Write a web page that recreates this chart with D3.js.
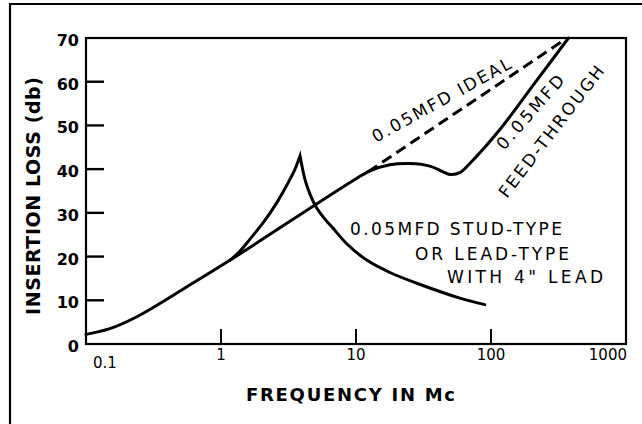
<!DOCTYPE html>
<html>
<head>
<meta charset="utf-8">
<script src="https://cdn.jsdelivr.net/npm/d3@7/dist/d3.min.js"></script>
<style>
  html, body { margin: 0; padding: 0; background: #fff; }
  svg { display: block; }
  text { font-family: "DejaVu Sans", sans-serif; fill: #000; }
</style>
</head>
<body>
<svg id="chart" width="642" height="424"></svg>
<script>
// Insertion loss of 0.05 MFD capacitors versus frequency

// Feed-through capacitor (shares the low-frequency rise with the lead-type part)
const feedFreq = [0.1, 0.15, 0.24, 0.56, 1.17, 9.1, 12.7, 17.8, 25.1, 35.2, 44.2, 49.6, 58.8, 69.7, 116, 210, 375];
const feedLoss = [2.2, 3.5, 6.3, 13.1, 19.2, 37.0, 39.6, 41.0, 41.3, 40.7, 39.4, 38.8, 39.2, 41.3, 49.0, 59.6, 70];

// Stud-type / lead-type with 4" lead: resonance rise, then falling branch
const studRiseFreq = [1.17, 1.38, 1.64, 2.06, 2.6, 3.07, 3.5, 3.85];
const studRiseLoss = [19.2, 21.2, 24.0, 27.8, 32.4, 36.3, 39.7, 43.0];
const studFallFreq = [3.85, 4.2, 4.6, 5.05, 5.8, 6.8, 8.5, 12, 18, 28.2, 58.8, 90];
const studFallLoss = [43.0, 37.5, 34.0, 31.4, 28.8, 26.4, 23.0, 19.2, 16.3, 13.9, 10.5, 9.0];

// Ideal 0.05 MFD capacitor (dashed)
const idealFreq = [12.3, 343];
const idealLoss = [39.4, 69.4];

// Axis ticks
const xTicks = [0.1, 1, 10, 100, 1000];
const xTickLabels = ["0.1", "1", "10", "100", "1000"];
const yTicks = [0, 10, 20, 30, 40, 50, 60, 70];

const svg = d3.select("#chart");

const x = d3.scaleLog().domain([0.1, 1000]).range([86, 626]);
const y = d3.scaleLinear().domain([0, 70]).range([344, 38]);

// outer frame (left and top edges of the sheet)
svg.append("path")
  .attr("d", "M10,424 L10,4 L642,4")
  .attr("fill", "none").attr("stroke", "#000").attr("stroke-width", 2.2);

// plot box
svg.append("rect")
  .attr("x", x(0.1)).attr("y", y(70))
  .attr("width", x(1000) - x(0.1)).attr("height", y(0) - y(70))
  .attr("fill", "none").attr("stroke", "#000").attr("stroke-width", 2.2);

// y ticks (inward) and labels
const yMajor = yTicks.filter(d => d > 0 && d < 70);
svg.append("g").selectAll("line").data(yMajor).join("line")
  .attr("x1", x(0.1)).attr("x2", x(0.1) + 18)
  .attr("y1", d => y(d)).attr("y2", d => y(d))
  .attr("stroke", "#000").attr("stroke-width", 2.4);
svg.append("g").selectAll("text").data(yTicks).join("text")
  .attr("x", 79).attr("y", d => y(d) + 8)
  .attr("text-anchor", "end")
  .attr("font-size", 16).attr("font-weight", "bold")
  .text(d => d);

// x ticks (inward) and labels
const xMajor = xTicks.filter(d => d > 0.1 && d < 1000);
svg.append("g").selectAll("line").data(xMajor).join("line")
  .attr("x1", d => x(d)).attr("x2", d => x(d))
  .attr("y1", y(0)).attr("y2", y(0) - 15)
  .attr("stroke", "#000").attr("stroke-width", 2);
svg.append("g").selectAll("text").data(xTicks).join("text")
  .attr("x", (d, i) => i === 0 ? x(d) + 7 : (i === xTicks.length - 1 ? x(d) + 1 : x(d)))
  .attr("y", (d, i) => i === 0 ? 368 : 360)
  .attr("text-anchor", (d, i) => i === 0 ? "start" : (i === xTicks.length - 1 ? "end" : "middle"))
  .attr("font-size", 15)
  .text((d, i) => xTickLabels[i]);

// axis titles
svg.append("text")
  .attr("x", 246).attr("y", 401)
  .attr("font-size", 18).attr("font-weight", "bold")
  .attr("textLength", 209).attr("lengthAdjust", "spacing")
  .text("FREQUENCY IN Mc");

svg.append("text")
  .attr("transform", "translate(40,196) rotate(-90)")
  .attr("text-anchor", "middle")
  .attr("font-size", 19).attr("font-weight", "bold")
  .attr("textLength", 238).attr("lengthAdjust", "spacing")
  .text("INSERTION LOSS  (db)");

// curves
const line = d3.line()
  .x(d => x(d[0])).y(d => y(d[1]))
  .curve(d3.curveCatmullRom.alpha(0.5));

const zip = (a, b) => a.map((v, i) => [v, b[i]]);

svg.append("path")
  .attr("d", line(zip(feedFreq, feedLoss)))
  .attr("fill", "none").attr("stroke", "#000").attr("stroke-width", 3)
  .attr("stroke-linecap", "round");

const studPath = line(zip(studRiseFreq, studRiseLoss)) +
  line(zip(studFallFreq, studFallLoss)).replace(/^M/, "L");
svg.append("path")
  .attr("d", studPath)
  .attr("fill", "none").attr("stroke", "#000").attr("stroke-width", 3)
  .attr("stroke-linejoin", "miter").attr("stroke-miterlimit", 20)
  .attr("stroke-linecap", "round");

svg.append("path")
  .attr("d", d3.line().x(d => x(d[0])).y(d => y(d[1]))(zip(idealFreq, idealLoss)))
  .attr("fill", "none").attr("stroke", "#000").attr("stroke-width", 3)
  .attr("stroke-dasharray", "11,6");

// curve annotations
function note(txt, px, py, angle, len) {
  svg.append("text")
    .attr("transform", `translate(${px},${py}) rotate(${angle})`)
    .attr("font-size", 17)
    .attr("textLength", len).attr("lengthAdjust", "spacing")
    .text(txt);
}
note("0.05MFD IDEAL", 376, 143, -29, 156);
note("0.05MFD", 504, 151, -48.7, 93);
note("FEED-THROUGH", 507, 199, -52.5, 161);
note("0.05MFD STUD-TYPE", 350, 235, 0, 212);
note("OR LEAD-TYPE", 415, 260, 0, 154);
note("WITH 4\" LEAD", 447, 283, 0, 156);
</script>
</body>
</html>
